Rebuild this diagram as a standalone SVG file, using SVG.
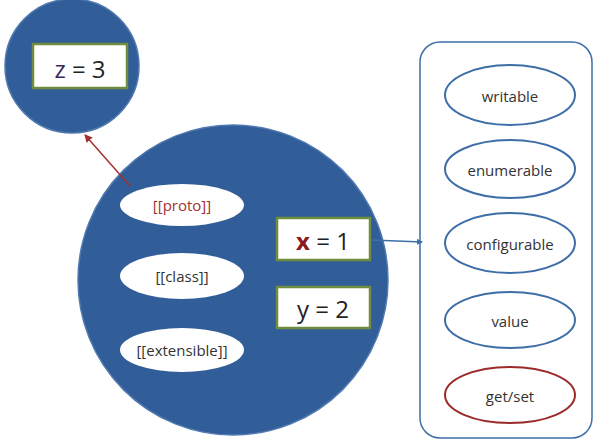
<svg xmlns="http://www.w3.org/2000/svg" width="595" height="444" viewBox="0 0 595 444">
<defs>
<style>
.obj{fill:#315D98;stroke:#5079B0;stroke-width:1.5}
.box{fill:#fff;stroke:#6F8E3F;stroke-width:2.5}
.iel{fill:#fff;stroke:none}
.pel{fill:#fff;stroke:#3E6EA8;stroke-width:2}
.t{font-family:"Open Sans","Liberation Sans",sans-serif;text-anchor:middle;dominant-baseline:central;fill:#333}
.s{font-size:15px}
.b{font-size:24px;fill:#222}
</style>
<marker id="ar" markerWidth="8" markerHeight="8" refX="7" refY="4" orient="auto" markerUnits="userSpaceOnUse"><path d="M0,0 L8,4 L0,8 Z" fill="#A33030"/></marker>
<marker id="ab" markerWidth="6" markerHeight="6" refX="5" refY="3" orient="auto" markerUnits="userSpaceOnUse"><path d="M0,0 L6,3 L0,6 Z" fill="#3E6EA8"/></marker>
</defs>
<rect width="595" height="444" fill="#fff"/>
<g id="proto-object">
<circle class="obj" cx="72" cy="66" r="67"/>
<g id="z"><rect class="box" x="33" y="44" width="94" height="44"/><text class="t b" x="80" y="68"><tspan fill="#3A2A5A">z</tspan> = 3</text></g>
</g>
<g id="object">
<circle class="obj" cx="233" cy="280" r="155"/>
</g>
<g id="proto"><ellipse class="iel" cx="182" cy="205" rx="62" ry="21"/><text class="t s" x="182" y="205" style="fill:#A33030">[[proto]]</text></g>
<g id="class"><ellipse class="iel" cx="182" cy="276" rx="62" ry="23"/><text class="t s" x="182" y="276">[[class]]</text></g>
<g id="extensible"><ellipse class="iel" cx="182" cy="350" rx="62" ry="22"/><text class="t s" x="182" y="350">[[extensible]]</text></g>
<g id="x"><rect class="box" x="277" y="218" width="93" height="42"/><text class="t b" x="323" y="240"><tspan fill="#8B1A1A" font-weight="bold">x</tspan> = 1</text></g>
<g id="y"><rect class="box" x="277" y="287" width="93" height="41"/><text class="t b" x="323" y="308">y = 2</text></g>
<g id="descriptor">
<rect x="420" y="42" width="172" height="396" rx="20" fill="#fff" stroke="#3E6EA8" stroke-width="1.5"/>
</g>
<g id="writable"><ellipse class="pel" cx="510" cy="95" rx="65" ry="30"/><text class="t s" x="510" y="96">writable</text></g>
<g id="enumerable"><ellipse class="pel" cx="510" cy="169" rx="65" ry="29"/><text class="t s" x="510" y="170">enumerable</text></g>
<g id="configurable"><ellipse class="pel" cx="510" cy="243" rx="65" ry="30"/><text class="t s" x="510" y="244">configurable</text></g>
<g id="value"><ellipse class="pel" cx="510" cy="320" rx="65" ry="28"/><text class="t s" x="510" y="321">value</text></g>
<g id="getset"><ellipse class="pel" cx="510" cy="395" rx="65" ry="28" style="stroke:#9B2B2B"/><text class="t s" x="510" y="396">get/set</text></g>
<g id="connectors" fill="none">
<line x1="130" y1="186" x2="85" y2="135" stroke="#A33030" stroke-width="1.5" marker-end="url(#ar)"/>
<line x1="371" y1="240" x2="422" y2="242" stroke="#3E6EA8" stroke-width="1.5" marker-end="url(#ab)"/>
</g>
</svg>
